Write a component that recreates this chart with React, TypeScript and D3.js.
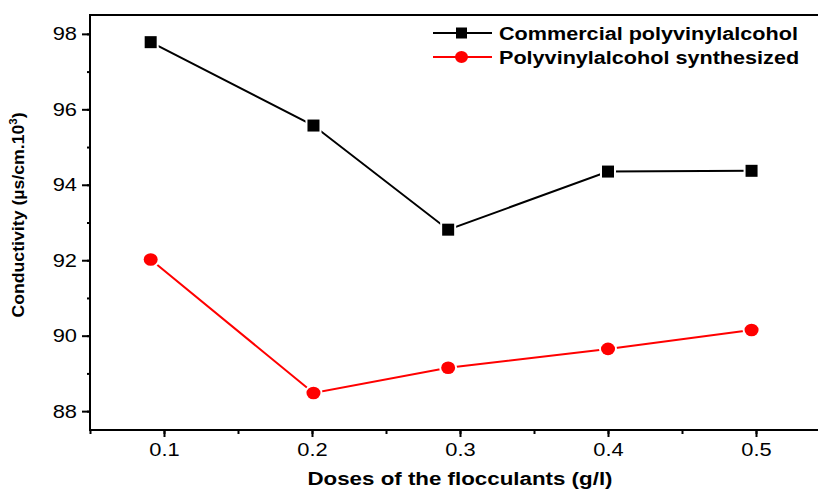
import React, { useEffect, useRef } from 'react'
import * as d3 from 'd3'

// doses (g/l) and conductivity values
const doses = [0.091, 0.201, 0.292, 0.4, 0.497]
const commercial = [97.78, 95.57, 92.81, 94.35, 94.37]
const synthesized = [92.02, 88.48, 89.15, 89.65, 90.15]
const seriesNames = ['Commercial polyvinylalcohol', 'Polyvinylalcohol synthesized']
const xTicks = [0.1, 0.2, 0.3, 0.4, 0.5]
const yTicks = [88, 90, 92, 94, 96, 98]

// the original figure's lettering is a bit wider than Arial
const stretch = (sel: d3.Selection<any, any, any, any>, k: number) => {
  sel.each(function () {
    const el = this as SVGTextElement
    const w = el.getComputedTextLength()
    d3.select(el).attr('textLength', w * k).attr('lengthAdjust', 'spacingAndGlyphs')
  })
}

const App = () => {
  const ref = useRef<SVGSVGElement>(null)

  useEffect(() => {
    const svg = d3.select(ref.current)
    svg.selectAll('*').remove()

    const left = 90
    const right = 830
    const top = 15
    const bottom = 430
    const font = 'Arial, "Liberation Sans", sans-serif'

    const x = d3.scaleLinear().domain([0.05, 0.55]).range([left, right])
    const y = d3.scaleLinear().domain([87.5, 98.5]).range([bottom, top])

    // frame: top line (right side is off-canvas)
    svg
      .append('line')
      .attr('x1', left)
      .attr('x2', 818)
      .attr('y1', top)
      .attr('y2', top)
      .attr('stroke', '#000')
      .attr('stroke-width', 2)

    // Y axis
    const yAxis = svg.append('g').attr('transform', `translate(${left},0)`)
    yAxis
      .append('g')
      .call(d3.axisLeft(y).tickValues(d3.range(88, 98.01, 1)).tickSize(3).tickFormat(() => ''))
      .call((g) => g.select('.domain').remove())
      .call((g) => g.selectAll('line').attr('stroke-width', 2))
    yAxis
      .append('g')
      .call(d3.axisLeft(y).tickValues(yTicks).tickSize(8).tickPadding(5).tickFormat(d3.format('d')))
      .call((g) => g.select('.domain').remove())
      .call((g) => g.selectAll('line').attr('stroke-width', 2))
      .call((g) => g.selectAll('text').attr('font-size', 19).attr('font-family', font).attr('fill', '#000'))
      .call((g) => stretch(g.selectAll('text'), 1.15))
    yAxis
      .append('line')
      .attr('x1', 0)
      .attr('x2', 0)
      .attr('y1', top - 1)
      .attr('y2', bottom + 1)
      .attr('stroke', '#000')
      .attr('stroke-width', 2)

    // X axis
    const xAxis = svg.append('g').attr('transform', `translate(0,${bottom})`)
    xAxis
      .append('g')
      .call(d3.axisBottom(x).tickValues(d3.range(0.05, 0.551, 0.05).map((v) => +v.toFixed(2))).tickSize(4).tickFormat(() => ''))
      .call((g) => g.select('.domain').remove())
      .call((g) => g.selectAll('line').attr('stroke-width', 2))
    xAxis
      .append('g')
      .call(d3.axisBottom(x).tickValues(xTicks).tickSize(7).tickPadding(6).tickFormat(d3.format('.1f')))
      .call((g) => g.select('.domain').remove())
      .call((g) => g.selectAll('line').attr('stroke-width', 2))
      .call((g) => g.selectAll('text').attr('font-size', 19).attr('font-family', font).attr('fill', '#000'))
      .call((g) => stretch(g.selectAll('text'), 1.15))
    xAxis
      .append('line')
      .attr('x1', left - 1)
      .attr('x2', 818)
      .attr('y1', 0)
      .attr('y2', 0)
      .attr('stroke', '#000')
      .attr('stroke-width', 2)

    // axis titles
    const xTitle = svg
      .append('text')
      .attr('x', 460)
      .attr('y', 485)
      .attr('text-anchor', 'middle')
      .attr('font-family', font)
      .attr('font-weight', 'bold')
      .attr('font-size', 18)
      .text('Doses of the flocculants (g/l)')
    stretch(xTitle, 1.24)

    const yTitle = svg
      .append('text')
      .attr('transform', 'translate(24,215) rotate(-90)')
      .attr('text-anchor', 'middle')
      .attr('font-family', font)
      .attr('font-weight', 'bold')
      .attr('font-size', 17)
    yTitle.append('tspan').text('Conductivity (µs/cm.10')
    yTitle.append('tspan').attr('font-size', 11).attr('dy', -7).text('3')
    yTitle.append('tspan').attr('dy', 7).text(')')
    stretch(yTitle, 1.04)

    const line = d3
      .line<number>()
      .x((_, i) => x(doses[i]))
      .y((d) => y(d))

    const series = [
      { values: commercial, color: '#000', shape: 'square' },
      { values: synthesized, color: '#ff0000', shape: 'circle' },
    ]

    series.forEach((s) => {
      svg
        .append('path')
        .datum(s.values)
        .attr('fill', 'none')
        .attr('stroke', s.color)
        .attr('stroke-width', 2)
        .attr('d', line)

      const marks = svg.append('g')
      if (s.shape === 'square') {
        marks
          .selectAll('rect')
          .data(s.values)
          .join('rect')
          .attr('x', (_, i) => x(doses[i]) - 6)
          .attr('y', (d) => y(d) - 6)
          .attr('width', 12)
          .attr('height', 12)
          .attr('fill', s.color)
          .attr('stroke', '#fff')
          .attr('stroke-width', 4)
          .attr('paint-order', 'stroke')
      } else {
        marks
          .selectAll('ellipse')
          .data(s.values)
          .join('ellipse')
          .attr('cx', (_, i) => x(doses[i]))
          .attr('cy', (d) => y(d))
          .attr('rx', 7)
          .attr('ry', 6.3)
          .attr('fill', s.color)
          .attr('stroke', '#fff')
          .attr('stroke-width', 4)
          .attr('paint-order', 'stroke')
      }
    })

    // legend
    const legend = svg.append('g').attr('transform', 'translate(433,33)')
    series.forEach((s, i) => {
      const g = legend.append('g').attr('transform', `translate(0,${i * 24})`)
      g.append('line').attr('x1', 0).attr('x2', 59).attr('stroke', s.color).attr('stroke-width', 2)
      if (s.shape === 'square') {
        g.append('rect').attr('x', 23).attr('y', -5.5).attr('width', 11).attr('height', 11).attr('fill', s.color)
      } else {
        g.append('ellipse').attr('cx', 28.5).attr('cy', 0).attr('rx', 6.5).attr('ry', 6).attr('fill', s.color)
      }
      const t = g
        .append('text')
        .attr('x', 66)
        .attr('y', 6.5)
        .attr('font-family', font)
        .attr('font-weight', 'bold')
        .attr('font-size', 18)
        .text(seriesNames[i])
      stretch(t, 1.2)
    })
  }, [])

  return (
    <svg
      ref={ref}
      width={818}
      height={490}
      style={{ position: 'absolute', left: 0, top: 0, background: '#fff' }}
    />
  )
}

export default App
